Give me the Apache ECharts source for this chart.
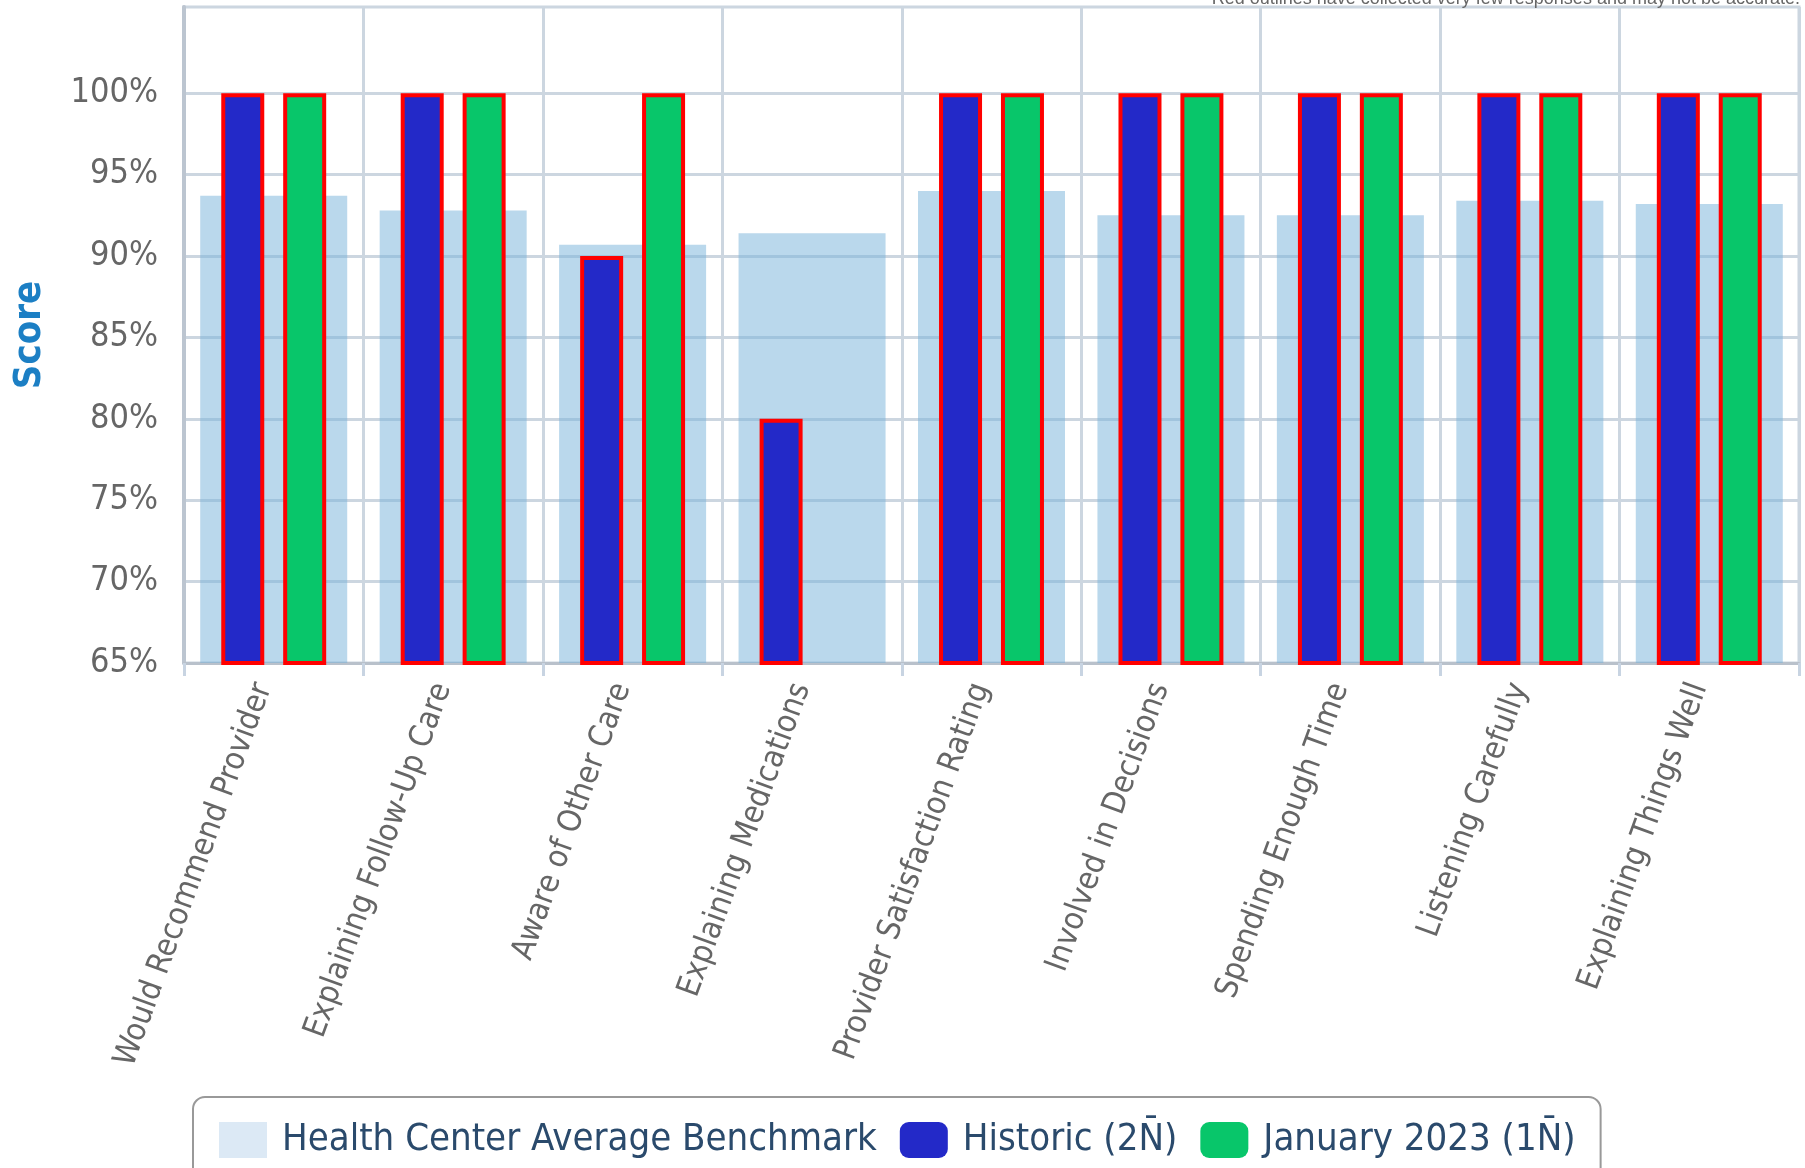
<!DOCTYPE html>
<html>
<head>
<meta charset="utf-8">
<title>Provider Scores</title>
<script src="https://cdn.jsdelivr.net/npm/echarts@6/dist/echarts.min.js"></script>
<style>
  html, body { margin: 0; padding: 0; background: #fff; }
  #chart { width: 1805px; height: 1168px; }
</style>
</head>
<body>
<div id="chart"></div>
<script>
// 数据
var categories = ['Would Recommend Provider', 'Explaining Follow-Up Care', 'Aware of Other Care',
  'Explaining Medications', 'Provider Satisfaction Rating', 'Involved in Decisions',
  'Spending Enough Time', 'Listening Carefully', 'Explaining Things Well'];
var benchmark = [93.7, 92.8, 90.7, 91.4, 94.0, 92.5, 92.5, 93.4, 93.2];
var historic = [100, 100, 90, 80, 100, 100, 100, 100, 100];
var january = [100, 100, 100, null, 100, 100, 100, 100, 100];
var yTicks = [65, 70, 75, 80, 85, 90, 95, 100];

var seriesNames = ['Health Center Average Benchmark', 'Historic (2N\u0304)', 'January 2023 (1N\u0304)'];
var font = "'DejaVu Sans Condensed', 'DejaVu Sans', sans-serif";
var gridColor = '#ccd6e0';

var chart = echarts.init(document.getElementById('chart'));

// 横向网格线用 markLine 画（顶部不是整刻度）
var gridLines = [];
for (var i = 1; i < yTicks.length; i++) {
  gridLines.push({ yAxis: yTicks[i] });
}

var option = {
  animation: false,
  textStyle: { fontFamily: font },
  grid: {
    left: 184, right: 6, top: 7, bottom: 505, containLabel: false,
    show: true, borderColor: gridColor, borderWidth: 3, backgroundColor: 'transparent'
  },
  graphic: [{
    type: 'text',
    right: 5,
    top: -10,
    style: {
      text: 'Red outlines have collected very few responses and may not be accurate.',
      font: "18px 'Liberation Sans', Arial, sans-serif",
      fill: '#666'
    }
  }],
  legend: {
    left: 193,
    top: 1097,
    padding: [24, 25, 30, 26],
    borderColor: '#999',
    borderWidth: 2,
    borderRadius: 12,
    itemWidth: 48,
    itemHeight: 36,
    itemGap: 23,
    textStyle: { fontSize: 38, color: '#2a4a6c', fontFamily: font, padding: [0, 0, 0, 10] },
    data: [
      { name: seriesNames[0], icon: 'rect', itemStyle: { color: '#dce9f5', borderWidth: 0 } },
      { name: seriesNames[1], icon: 'roundRect', itemStyle: { color: '#2329c8', borderWidth: 0 } },
      { name: seriesNames[2], icon: 'roundRect', itemStyle: { color: '#08c66a', borderWidth: 0 } }
    ]
  },
  xAxis: [{
    type: 'category',
    data: categories,
    axisLine: { lineStyle: { color: '#b9c1cb', width: 3 } },
    axisTick: { show: true, length: 13, lineStyle: { color: '#c8d4e2', width: 3 } },
    splitLine: { show: true, lineStyle: { color: gridColor, width: 3 } },
    axisLabel: {
      rotate: 70, margin: 25, fontSize: 32, color: '#666', interval: 0,
      verticalAlign: 'bottom', lineHeight: 22
    }
  }, {
    type: 'category',
    data: categories,
    show: false
  }],
  yAxis: {
    type: 'value',
    min: 65,
    max: 105.3,
    interval: 5,
    name: 'Score',
    nameLocation: 'middle',
    nameGap: 135,
    nameTextStyle: { fontSize: 38, fontWeight: 'bold', color: '#1c7fc4' },
    axisLine: { show: true, lineStyle: { color: '#bcc5d0', width: 4 } },
    axisTick: { show: false },
    splitLine: { show: false },
    axisLabel: {
      fontSize: 34,
      color: '#666',
      margin: 26,
      formatter: function (v) {
        return yTicks.indexOf(v) >= 0 ? v + '%' : '';
      }
    }
  },
  series: [
    {
      name: seriesNames[0],
      type: 'bar',
      xAxisIndex: 1,
      barWidth: 147,
      z: 1,
      itemStyle: { color: 'rgba(117,177,217,0.5)' },
      markLine: {
        silent: true,
        z: 0,
        symbol: 'none',
        label: { show: false },
        lineStyle: { color: gridColor, width: 3, type: 'solid' },
        emphasis: { disabled: true },
        data: gridLines
      },
      data: benchmark
    },
    {
      name: seriesNames[1],
      type: 'bar',
      barWidth: 43,
      barGap: '44%',
      z: 3,
      itemStyle: { color: '#2329c8', borderColor: '#ff0000', borderWidth: 4 },
      data: historic
    },
    {
      name: seriesNames[2],
      type: 'bar',
      barWidth: 43,
      z: 3,
      itemStyle: { color: '#08c66a', borderColor: '#ff0000', borderWidth: 4 },
      data: january
    }
  ]
};

chart.setOption(option);
</script>
</body>
</html>
